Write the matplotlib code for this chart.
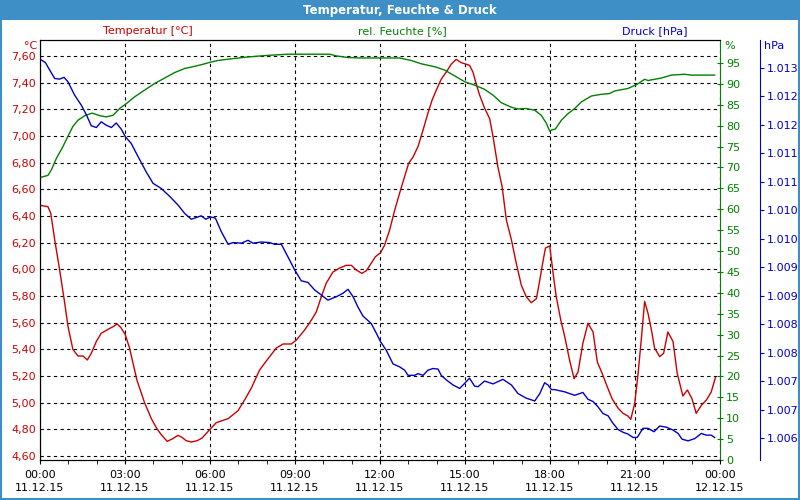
import matplotlib
matplotlib.use("Agg")
import matplotlib.pyplot as plt
import numpy as np
from matplotlib.patches import Rectangle

# hours since 11.12.15 00:00
temp_h = [0.0, 0.28, 0.38, 0.52, 0.69, 0.87, 0.99, 1.16, 1.34, 1.52, 1.67, 1.81, 1.99, 2.16, 2.40,
          2.58, 2.72, 2.85, 3.01, 3.16, 3.28, 3.42, 3.69, 3.93, 4.11, 4.28, 4.49, 4.69, 4.87,
          5.01, 5.16, 5.34, 5.55, 5.72, 5.87, 6.0, 6.22, 6.64, 6.99, 7.22, 7.46, 7.75, 8.05,
          8.34, 8.58, 8.87, 9.05, 9.34, 9.58, 9.75, 9.93, 10.1, 10.34, 10.58, 10.81, 10.99,
          11.16, 11.36, 11.52, 11.69, 11.84, 12.02, 12.16, 12.34, 12.52, 12.69, 12.87, 13.01,
          13.16, 13.34, 13.52, 13.69, 13.84, 14.02, 14.16, 14.34, 14.52, 14.69, 14.87, 15.01,
          15.16, 15.28, 15.39, 15.51, 15.69, 15.87, 15.99, 16.16, 16.31, 16.46, 16.64, 16.81,
          16.99, 17.16, 17.34, 17.52, 17.64, 17.74, 17.84, 17.99, 18.11, 18.22, 18.38, 18.52,
          18.69, 18.85, 18.99, 19.16, 19.34, 19.52, 19.67, 19.84, 20.02, 20.19, 20.4, 20.58,
          20.75, 20.85, 20.99, 21.11, 21.22, 21.34, 21.46, 21.58, 21.69, 21.87, 22.01, 22.16,
          22.34, 22.49, 22.69, 22.85, 23.01, 23.16, 23.34, 23.52, 23.69, 23.84]
temp = [6.48, 6.47, 6.42, 6.22, 6.00, 5.75, 5.57, 5.40, 5.35, 5.35, 5.32, 5.37, 5.46, 5.52, 5.55,
        5.57, 5.59, 5.565, 5.51, 5.41, 5.30, 5.17, 5.00, 4.88, 4.81, 4.76, 4.71, 4.73, 4.755,
        4.74, 4.715, 4.705, 4.715, 4.735, 4.77, 4.80, 4.85, 4.88, 4.94, 5.02, 5.11, 5.245, 5.33,
        5.41, 5.44, 5.44, 5.47, 5.545, 5.62, 5.68, 5.795, 5.895, 5.98, 6.01, 6.03, 6.03,
        5.995, 5.97, 5.99, 6.045, 6.095, 6.125, 6.18, 6.295, 6.445, 6.57, 6.695, 6.795,
        6.84, 6.92, 7.045, 7.17, 7.27, 7.36, 7.425, 7.48, 7.54, 7.575, 7.55, 7.54,
        7.53, 7.48, 7.395, 7.31, 7.21, 7.13, 6.995, 6.77, 6.62, 6.37, 6.22, 6.045,
        5.88, 5.795, 5.75, 5.78, 5.92, 6.045, 6.16, 6.175, 5.97, 5.795, 5.62, 5.495,
        5.32, 5.18, 5.23, 5.445, 5.595, 5.53, 5.305, 5.22, 5.12, 5.03, 4.96, 4.92,
        4.90, 4.875, 4.995, 5.22, 5.47, 5.76, 5.67, 5.545, 5.41, 5.345, 5.37, 5.53,
        5.46, 5.22, 5.05, 5.095, 5.03, 4.92, 4.98, 5.02, 5.08, 5.19]

hum_h = [0.0, 0.28, 0.4, 0.58, 0.81, 1.01, 1.16, 1.34, 1.58, 1.84, 2.11, 2.34, 2.58, 2.81, 3.05,
         3.34, 3.69, 4.05, 4.4, 4.75, 5.11, 5.46, 5.81, 6.02, 6.28, 6.75, 7.28, 7.99, 8.75,
         9.46, 10.22, 10.46, 10.87, 11.34, 12.05, 12.69, 13.1, 13.46, 13.99, 14.28, 14.64,
         14.99, 15.34, 15.69, 15.99, 16.28, 16.64, 16.87, 17.16, 17.46, 17.69, 17.87, 17.99,
         18.07, 18.19, 18.4, 18.64, 18.87, 19.11, 19.46, 19.81, 20.11, 20.28, 20.75, 21.05,
         21.34, 21.46, 21.93, 22.28, 22.75, 22.99, 23.81]
hum = [67.6, 68.1, 69.4, 72.2, 75.0, 77.8, 79.8, 81.3, 82.4, 83.0, 82.4, 82.1, 82.5, 84.1, 85.3,
       86.9, 88.5, 90.1, 91.4, 92.7, 93.7, 94.2, 94.8, 95.2, 95.6, 96.0, 96.4, 96.8, 97.1,
       97.1, 97.1, 96.7, 96.3, 96.2, 96.2, 96.2, 95.6, 94.8, 94.0, 93.3, 91.9,
       90.5, 89.7, 88.7, 87.3, 85.5, 84.4, 84.0, 84.1, 83.7, 82.5, 80.6, 78.7,
       79.0, 79.2, 81.3, 82.9, 84.1, 85.7, 87.1, 87.5, 87.7, 88.3, 88.9, 89.8,
       91.1, 90.8, 91.4, 92.1, 92.3, 92.1, 92.1]

pres_h = [0.0, 0.19, 0.34, 0.52, 0.69, 0.85, 0.99, 1.22, 1.46, 1.64, 1.81, 1.99, 2.16, 2.34, 2.52,
          2.69, 2.87, 3.01, 3.22, 3.46, 3.75, 3.99, 4.28, 4.58, 4.87, 5.11, 5.34, 5.52, 5.69,
          5.85, 6.02, 6.19, 6.4, 6.64, 6.81, 7.11, 7.34, 7.52, 7.81, 8.11, 8.28, 8.52, 8.75,
          8.99, 9.22, 9.46, 9.69, 9.93, 10.16, 10.46, 10.69, 10.87, 11.05, 11.22, 11.4, 11.69,
          11.87, 12.02, 12.22, 12.46, 12.69, 12.87, 12.99, 13.22, 13.34, 13.52, 13.69, 13.87,
          14.05, 14.16, 14.34, 14.58, 14.81, 14.99, 15.16, 15.34, 15.46, 15.69, 15.99, 16.34,
          16.64, 16.87, 17.16, 17.46, 17.64, 17.81, 17.93, 18.05, 18.16, 18.34, 18.52, 18.69,
          18.87, 19.05, 19.16, 19.34, 19.52, 19.69, 19.87, 20.05, 20.22, 20.4, 20.58, 20.75,
          20.93, 21.08, 21.28, 21.46, 21.67, 21.87, 22.11, 22.34, 22.52, 22.66, 22.87, 23.11,
          23.34, 23.52, 23.69, 23.81]
pres = [1013.15, 1013.09, 1012.96, 1012.81, 1012.80, 1012.83, 1012.75, 1012.52, 1012.34, 1012.17,
        1011.98, 1011.95, 1012.05, 1011.99, 1011.95, 1012.03, 1011.92, 1011.79, 1011.67, 1011.44,
        1011.17, 1010.97, 1010.88, 1010.74, 1010.59, 1010.44, 1010.34, 1010.37, 1010.40, 1010.34,
        1010.38, 1010.36, 1010.12, 1009.90, 1009.93, 1009.92, 1009.97, 1009.92, 1009.94, 1009.93,
        1009.90, 1009.90, 1009.68, 1009.45, 1009.26, 1009.23, 1009.10, 1009.01, 1008.92, 1008.98,
        1009.04, 1009.11, 1008.98, 1008.80, 1008.64, 1008.51, 1008.34, 1008.19, 1008.04, 1007.80,
        1007.75, 1007.69, 1007.60, 1007.60, 1007.63, 1007.60, 1007.69, 1007.72, 1007.71, 1007.60,
        1007.52, 1007.43, 1007.37, 1007.46, 1007.55, 1007.41, 1007.40, 1007.50, 1007.45, 1007.53,
        1007.43, 1007.28, 1007.20, 1007.15, 1007.28, 1007.47, 1007.43, 1007.35, 1007.35, 1007.33,
        1007.31, 1007.28, 1007.25, 1007.28, 1007.30, 1007.18, 1007.14, 1007.05, 1006.93, 1006.89,
        1006.76, 1006.65, 1006.60, 1006.57, 1006.51, 1006.51, 1006.67, 1006.67, 1006.61, 1006.71,
        1006.69, 1006.64, 1006.58, 1006.48, 1006.45, 1006.49, 1006.58, 1006.55, 1006.55, 1006.51]

x_ticks = [0, 3, 6, 9, 12, 15, 18, 21, 24]
x_labels = ["00:00\n11.12.15", "03:00\n11.12.15", "06:00\n11.12.15", "09:00\n11.12.15",
            "12:00\n11.12.15", "15:00\n11.12.15", "18:00\n11.12.15", "21:00\n11.12.15",
            "00:00\n12.12.15"]
temp_ticks = np.round(np.arange(4.6, 7.61, 0.2), 2)
hum_ticks = np.arange(0, 96, 5)
pres_ticks = np.arange(1006.5, 1013.01, 0.5)

RED = "#cc0000"
GREEN = "#008000"
BLUE = "#0000cc"
BAR = "#3d8fc6"

plt.rcParams["font.family"] = "DejaVu Sans"
fig = plt.figure(figsize=(8, 5), dpi=100)
fig.patch.set_facecolor("white")

# title bar and frame
fig.patches.append(Rectangle((0, 0.96), 1, 0.04, transform=fig.transFigure,
                             facecolor=BAR, edgecolor="none", zorder=0))
fig.patches.append(Rectangle((0.001, 0.003), 0.998, 0.996, transform=fig.transFigure,
                             facecolor="none", edgecolor=BAR, lw=1.5, zorder=0))
fig.text(0.5, 0.979, "Temperatur, Feuchte & Druck", color="white", fontsize=8.5,
         fontweight="bold", ha="center", va="center")

ax = fig.add_axes([0.05, 0.08, 0.85, 0.84])
ax_h = ax.twinx()
ax_p = ax.twinx()

ax.plot(temp_h, temp, color=RED, lw=1)
ax_h.plot(hum_h, hum, color=GREEN, lw=1)
ax_p.plot(pres_h, pres, color=BLUE, lw=1)

ax.set_xlim(0, 24)
ax.set_ylim(4.57, 7.72)
ax_h.set_ylim(0, 100.5)
ax_p.set_ylim(1006.114, 1013.486)

ax.set_xticks(x_ticks)
ax.set_xticklabels(x_labels, fontsize=8, linespacing=1.45)
ax.set_xticks(np.arange(0, 25, 1), minor=True)
ax.tick_params(axis="x", which="both", direction="out", length=3, pad=4)

ax.set_yticks(temp_ticks)
ax.set_yticklabels([f"{v:.2f}".replace(".", ",") for v in temp_ticks], color=RED, fontsize=8)
ax.tick_params(axis="y", length=0, pad=3)

ax.grid(True, color="black", linestyle=(0, (3, 3)), lw=0.8)
ax.set_axisbelow(True)

ax_h.set_yticks(hum_ticks)
ax_h.set_yticklabels([str(v) for v in hum_ticks], color=GREEN, fontsize=8)
ax_h.tick_params(axis="y", colors=GREEN, direction="inout", length=5, pad=2, labelcolor=GREEN)
ax_h.spines["right"].set_color(GREEN)

# 40 px to the right of the plot = 28.8 pt
ax_p.spines["right"].set_position(("outward", 28.8))
ax_p.spines["right"].set_color(BLUE)
ax_p.set_yticks(pres_ticks)
ax_p.set_yticklabels([f"1.{int(v) - 1000:03d}" for v in pres_ticks], color=BLUE, fontsize=8)
ax_p.tick_params(axis="y", colors=BLUE, direction="out", length=3, pad=2, labelcolor=BLUE)
for s in ["top", "left", "bottom"]:
    ax_p.spines[s].set_visible(False)

for a in (ax, ax_h):
    a.spines["top"].set_color("black")
    a.spines["left"].set_color("black")
    a.spines["bottom"].set_color("black")
ax.spines["right"].set_visible(False)

# series titles and units
fig.text(0.185, 0.938, "Temperatur [°C]", color=RED, fontsize=8, ha="center", va="center")
fig.text(0.503, 0.938, "rel. Feuchte [%]", color=GREEN, fontsize=8, ha="center", va="center")
fig.text(0.819, 0.938, "Druck [hPa]", color=BLUE, fontsize=8, ha="center", va="center")
fig.text(0.046, 0.908, "°C", color=RED, fontsize=8, ha="right", va="center")
fig.text(0.906, 0.908, "%", color=GREEN, fontsize=8, ha="left", va="center")
fig.text(0.955, 0.908, "hPa", color=BLUE, fontsize=8, ha="left", va="center")

fig.savefig("out.png", dpi=100)
